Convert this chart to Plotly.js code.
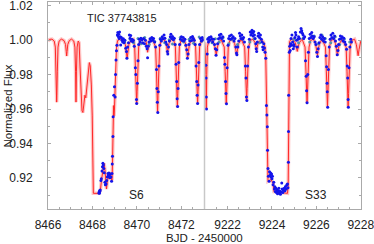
<!DOCTYPE html>
<html><head><meta charset="utf-8">
<script src="https://cdn.plot.ly/plotly-3.0.1.min.js"></script>
<style>html,body{margin:0;padding:0;background:#fff}#c{width:374px;height:244px}</style>
</head><body><div id="c"></div>
<script>
// ---- Model light curve (red), sector 6 ----
const modelS6X = [8466.00,8466.08,8466.18,8466.28,8466.33,8466.36,8466.38,8466.39,8466.40,8466.42,8466.45,8466.50,8466.60,8466.72,8466.79,8466.82,8466.84,8466.86,8466.89,8466.96,8467.06,8467.16,8467.21,8467.24,8467.26,8467.28,8467.31,8467.36,8467.40,8467.44,8467.48,8467.53,8467.57,8467.61,8467.66,8467.70,8467.74,8467.80,8467.86,8467.90,8467.95,8467.99,8468.02,8468.04,8468.30,8468.36,8468.41,8468.46,8468.52,8468.56,8468.60,8468.63,8468.67,8468.74,8468.80,8468.86,8468.88,8468.90,8468.92,8468.95,8468.97,8468.99,8469.02,8469.05,8469.08,8469.13,8469.25,8469.40,8469.48,8469.52,8469.56,8469.60,8469.64,8469.72,8469.84,8469.90,8469.94,8469.97,8469.99,8470.01,8470.04,8470.08,8470.15,8470.28,8470.40,8470.45,8470.48,8470.51,8470.56,8470.70,8470.84,8470.88,8470.91,8470.93,8470.95,8470.98,8471.02,8471.09,8471.20,8471.32,8471.35,8471.38,8471.41,8471.44,8471.52,8471.65,8471.73,8471.77,8471.80,8471.82,8471.84,8471.87,8471.91,8471.98,8472.10,8472.20,8472.24,8472.28,8472.32,8472.36,8472.44,8472.56,8472.64,8472.68,8472.71,8472.73,8472.75,8472.78,8472.82,8472.90,8473.04];
const modelS6Y = [0.9996,1.0005,1.0006,0.9995,0.9960,0.9820,0.9680,0.9640,0.9680,0.9820,0.9960,0.9995,1.0006,0.9998,0.9975,0.9935,0.9908,0.9935,0.9975,0.9998,1.0006,0.9995,0.9960,0.9820,0.9640,0.9820,0.9960,0.9995,0.9985,0.9850,0.9680,0.9590,0.9580,0.9620,0.9680,0.9665,0.9720,0.9830,0.9870,0.9850,0.9740,0.9560,0.9300,0.9110,0.9110,0.9130,0.9190,0.9240,0.9285,0.9250,0.9170,0.9135,0.9180,0.9220,0.9225,0.9200,0.9185,0.9280,0.9420,0.9620,0.9560,0.9600,0.9700,0.9840,0.9960,0.9998,1.0006,0.9998,0.9975,0.9935,0.9895,0.9935,0.9975,0.9998,1.0005,0.9960,0.9820,0.9700,0.9630,0.9700,0.9820,0.9960,0.9998,1.0006,0.9995,0.9970,0.9930,0.9970,0.9995,1.0006,0.9960,0.9820,0.9680,0.9580,0.9680,0.9820,0.9960,0.9998,1.0006,0.9980,0.9955,0.9924,0.9955,0.9980,1.0002,1.0005,0.9960,0.9820,0.9690,0.9610,0.9690,0.9820,0.9960,0.9998,1.0006,0.9975,0.9935,0.9895,0.9935,0.9975,0.9998,1.0005,0.9960,0.9820,0.9700,0.9630,0.9700,0.9820,0.9960,0.9998,1.0004];

// ---- Model light curve (red), sector 33 ----
const modelS33X = [9220.96,9221.00,9221.02,9221.04,9221.06,9221.09,9221.16,9221.28,9221.40,9221.45,9221.49,9221.53,9221.58,9221.70,9221.85,9221.89,9221.92,9221.94,9221.96,9221.99,9222.03,9222.10,9222.22,9222.32,9222.37,9222.41,9222.45,9222.50,9222.62,9222.77,9222.81,9222.84,9222.86,9222.88,9222.91,9222.95,9223.02,9223.14,9223.24,9223.28,9223.31,9223.34,9223.38,9223.50,9223.62,9223.68,9223.72,9223.76,9223.78,9223.80,9223.82,9223.95,9224.05,9224.09,9224.70,9224.73,9224.74,9224.76,9224.79,9224.84,9224.92,9225.05,9225.10,9225.14,9225.18,9225.23,9225.36,9225.49,9225.53,9225.56,9225.58,9225.60,9225.63,9225.67,9225.74,9225.86,9225.96,9226.01,9226.05,9226.09,9226.14,9226.26,9226.41,9226.45,9226.48,9226.50,9226.52,9226.55,9226.59,9226.66,9226.78,9226.86,9226.91,9226.95,9226.99,9227.04,9227.16,9227.34,9227.38,9227.41,9227.43,9227.45,9227.48,9227.52,9227.59,9227.72,9227.80,9227.84,9227.88,9227.92,9227.96,9228.00];
const modelS33Y = [0.9990,0.9930,0.9800,0.9600,0.9800,0.9960,0.9998,1.0005,0.9980,0.9950,0.9914,0.9950,0.9980,1.0005,0.9960,0.9820,0.9700,0.9630,0.9700,0.9820,0.9960,0.9998,1.0006,0.9980,0.9950,0.9914,0.9950,0.9980,1.0005,0.9960,0.9820,0.9720,0.9650,0.9720,0.9820,0.9960,0.9998,1.0006,0.9985,0.9965,0.9940,0.9965,0.9985,1.0004,0.9990,0.9960,0.9900,0.9620,0.9450,0.9250,0.9180,0.9190,0.9170,0.9120,0.9110,0.9160,0.9400,0.9750,0.9990,1.0002,1.0005,0.9985,0.9960,0.9935,0.9960,0.9985,1.0006,0.9960,0.9820,0.9700,0.9636,0.9700,0.9820,0.9960,0.9998,1.0006,0.9980,0.9950,0.9912,0.9950,0.9980,1.0005,0.9960,0.9820,0.9690,0.9610,0.9690,0.9820,0.9960,0.9998,1.0006,0.9980,0.9950,0.9912,0.9950,0.9980,1.0005,0.9960,0.9820,0.9690,0.9610,0.9690,0.9820,0.9960,0.9998,1.0006,0.9975,0.9945,0.9910,0.9945,0.9975,0.9995];

// ---- TESS data (dark blue), sector 6 ----
const dataS6X = [8468.29,8468.30,8468.31,8468.32,8468.33,8468.35,8468.38,8468.40,8468.43,8468.45,8468.47,8468.49,8468.51,8468.53,8468.56,8468.58,8468.61,8468.64,8468.67,8468.70,8468.72,8468.74,8468.76,8468.78,8468.80,8468.83,8468.86,8468.88,8468.89,8468.90,8468.92,8468.93,8468.96,8468.99,8469.02,8469.04,8469.06,8469.08,8469.10,
8469.12,8469.14,8469.16,8469.18,8469.20,8469.22,8469.25,8469.27,8469.30,8469.33,8469.36,8469.39,8469.42,8469.46,8469.50,8469.53,8469.55,8469.58,8469.62,8469.66,8469.69,8469.72,8469.75,8469.78,8469.81,8469.84,8469.88,8469.93,8469.95,8469.98,8469.99,8470.02,8470.05,8470.08,8470.11,8470.14,8470.18,8470.22,8470.26,8470.30,8470.34,8470.38,8470.42,8470.46,8470.48,8470.51,8470.55,8470.59,8470.63,8470.67,8470.71,8470.75,8470.80,8470.84,8470.88,8470.90,8470.92,8470.94,8470.96,8470.99,8471.03,8471.06,8471.10,8471.14,8471.18,8471.22,8471.26,8471.30,8471.34,8471.37,8471.39,8471.42,8471.46,8471.50,8471.53,8471.56,8471.60,8471.64,8471.68,8471.72,8471.76,8471.79,8471.81,8471.83,8471.85,8471.88,8471.92,8471.96,8472.00,8472.04,8472.08,8472.12,8472.16,8472.20,8472.24,8472.27,8472.30,8472.34,8472.38,8472.42,8472.46,8472.50,8472.54,8472.58,8472.62,8472.66,8472.69,8472.71,8472.73,8472.75,8472.78,8472.82,8472.86,8472.90,8472.94,8472.98];
const dataS6Y = [0.9112,0.9118,0.9110,0.9125,0.9120,0.9130,0.9185,0.9195,0.9240,0.9265,0.9285,0.9275,0.9255,0.9230,0.9175,0.9160,0.9165,0.9185,0.9205,0.9225,0.9215,0.9228,0.9210,0.9200,0.9222,0.9205,0.9180,0.9225,0.9280,0.9325,0.9440,0.9555,0.9680,0.9730,0.9670,0.9800,0.9885,0.9938,0.9970,
1.0030,1.0045,1.0022,1.0035,1.0010,1.0048,1.0020,0.9972,1.0015,1.0000,0.9990,1.0008,0.9985,1.0000,0.9953,0.9935,0.9895,0.9960,0.9985,1.0030,1.0012,1.0028,0.9995,1.0005,0.9992,1.0000,0.9965,0.9840,0.9800,0.9655,0.9632,0.9750,0.9880,0.9975,1.0005,0.9990,1.0012,1.0002,0.9985,1.0010,0.9980,1.0000,0.9965,0.9950,0.9898,0.9965,0.9990,1.0008,0.9995,1.0015,1.0000,1.0010,0.9990,0.9960,0.9830,0.9720,0.9640,0.9580,0.9700,0.9850,0.9970,1.0005,0.9995,1.0020,1.0008,1.0030,1.0012,0.9990,0.9975,0.9935,0.9920,0.9960,0.9995,1.0020,1.0035,1.0010,1.0022,1.0002,1.0012,0.9975,0.9860,0.9760,0.9660,0.9615,0.9720,0.9870,0.9975,1.0005,1.0020,0.9998,1.0015,0.9995,1.0005,0.9970,0.9945,0.9895,0.9920,0.9975,0.9995,1.0015,0.9998,1.0022,1.0010,1.0000,0.9975,0.9850,0.9760,0.9680,0.9632,0.9740,0.9870,0.9975,1.0010,0.9995,1.0015,1.0002];

// ---- TESS data (dark blue), sector 33 ----
const dataS33X = [9221.02,9221.03,9221.04,9221.05,9221.08,9221.11,9221.14,9221.17,9221.21,9221.25,9221.29,9221.33,9221.37,9221.41,9221.45,9221.48,9221.51,9221.55,9221.59,9221.63,9221.66,9221.70,9221.74,9221.78,9221.82,9221.86,9221.88,9221.91,9221.93,9221.95,9221.98,9222.02,9222.05,9222.09,9222.13,9222.17,9222.21,9222.25,9222.29,9222.33,9222.37,9222.40,9222.42,9222.46,9222.50,9222.54,9222.57,9222.60,9222.64,9222.68,9222.72,9222.76,9222.80,9222.83,9222.85,9222.87,9222.90,9222.94,9222.98,9223.02,9223.05,9223.08,9223.10,9223.12,9223.15,9223.18,9223.21,9223.24,9223.27,9223.29,9223.31,9223.34,9223.37,9223.40,9223.44,9223.48,9223.52,9223.55,9223.58,9223.60,9223.63,9223.66,9223.69,9223.72,
9223.75,9223.77,9223.79,9223.80,9223.82,9223.84,9223.87,9223.89,9223.92,9223.94,9223.96,9223.98,9224.00,9224.02,9224.05,9224.08,9224.11,9224.13,9224.15,9224.18,9224.20,9224.23,9224.25,9224.28,9224.31,9224.33,9224.36,9224.38,9224.41,9224.44,9224.46,9224.49,9224.52,9224.55,9224.58,9224.61,9224.64,9224.67,9224.70,9224.72,9224.74,9224.745,9224.75,
9224.78,9224.80,9224.82,9224.84,9224.86,9224.88,9224.90,9224.93,9224.96,9224.98,9225.00,9225.03,9225.06,9225.08,9225.11,9225.14,9225.17,9225.20,9225.24,9225.28,9225.31,9225.34,9225.37,9225.40,9225.43,9225.47,9225.51,9225.54,9225.56,9225.58,9225.61,9225.64,9225.68,9225.72,9225.75,9225.79,9225.82,9225.86,9225.90,9225.94,9225.98,9226.02,9226.05,9226.08,9226.12,9226.16,9226.20,9226.24,9226.28,9226.32,9226.36,9226.40,9226.44,9226.46,9226.48,9226.49,9226.51,9226.54,9226.58,9226.62,9226.66,9226.70,9226.74,9226.78,9226.82,9226.86,9226.90,9226.94,9226.97,9227.00,9227.04,9227.08,9227.12,9227.16,9227.20,9227.24,9227.28,9227.32,9227.36,9227.39,9227.41,9227.43,9227.44,9227.47,9227.51,9227.55,9227.58];
const dataS33Y = [0.9855,0.9780,0.9670,0.9600,0.9920,1.0005,0.9990,1.0015,1.0000,1.0020,1.0008,0.9990,1.0005,0.9975,0.9950,0.9912,0.9945,0.9980,1.0008,1.0030,1.0015,1.0035,1.0010,1.0020,0.9995,0.9900,0.9860,0.9760,0.9690,0.9630,0.9840,0.9970,1.0010,1.0025,1.0005,1.0030,1.0012,1.0020,0.9995,1.0010,0.9960,0.9925,0.9915,0.9960,0.9995,1.0040,1.0025,1.0010,1.0030,1.0005,1.0015,0.9990,0.9850,0.9780,0.9670,0.9650,0.9850,0.9960,1.0005,1.0048,1.0030,1.0045,1.0058,1.0040,1.0025,1.0050,1.0030,1.0010,0.9980,0.9950,0.9935,0.9990,1.0025,1.0040,1.0015,1.0030,1.0005,0.9990,0.9960,0.9945,0.9980,0.9955,0.9930,0.9895,
0.9620,0.9565,0.9497,0.9360,0.9254,0.9210,0.9180,0.9235,0.9215,0.9228,0.9205,0.9222,0.9195,0.9210,0.9160,0.9175,0.9135,0.9148,0.9120,0.9140,0.9115,0.9130,0.9108,0.9125,0.9140,0.9112,0.9122,0.9105,0.9118,0.9170,0.9135,0.9115,0.9128,0.9140,0.9125,0.9150,0.9135,0.9160,0.9165,0.9142,0.9290,0.9470,0.9680,
0.9930,0.9965,0.9940,0.9980,1.0010,0.9970,1.0030,0.9990,0.9950,0.9975,0.9965,1.0015,1.0045,1.0030,1.0000,0.9960,1.0005,1.0020,1.0010,1.0048,1.0068,1.0055,1.0040,1.0030,1.0010,1.0020,0.9880,0.9790,0.9706,0.9636,0.9800,0.9930,1.0010,1.0035,1.0015,1.0045,1.0025,1.0010,1.0020,0.9990,0.9975,0.9930,0.9905,0.9950,0.9985,1.0015,1.0030,1.0005,1.0020,0.9995,1.0010,0.9990,0.9910,0.9846,0.9750,0.9700,0.9610,0.9830,0.9960,1.0005,1.0030,1.0015,1.0040,1.0010,1.0025,0.9995,0.9965,0.9915,0.9940,0.9975,1.0005,1.0025,1.0010,1.0020,0.9995,1.0012,0.9990,0.9975,0.9948,0.9850,0.9780,0.9656,0.9610,0.9840,0.9960,1.0005,0.9990];

// ---- second data set (teal), baseline ----
const tealS6X = [8469.45,8469.70,8469.85,8470.05,8470.20,8470.35,8470.55,8470.65,8470.80,8471.05,8471.25,8471.45,8471.60,8471.95,8472.10,8472.35,8472.55,8472.80,8472.92];
const tealS6Y = [0.9990,1.0005,0.9985,1.0010,0.9980,1.0015,0.9975,1.0008,0.9992,1.0012,0.9985,1.0002,0.9978,1.0015,0.9990,1.0005,0.9982,1.0018,0.9995];
const tealS33X = [9221.12,9221.30,9221.45,9221.62,9221.80,9222.05,9222.20,9222.45,9222.65,9223.00,9223.20,9223.45,9225.00,9225.20,9225.40,9225.70,9225.90,9226.10,9226.25,9226.40,9226.65,9226.85,9227.05,9227.25,9227.50];
const tealS33Y = [1.0012,0.9985,1.0008,0.9990,1.0015,0.9980,1.0005,0.9975,1.0010,0.9990,1.0008,0.9985,1.0005,0.9985,1.0012,0.9990,1.0025,0.9980,1.0030,1.0010,0.9985,1.0020,0.9975,1.0005,0.9990];

const yTicks = [0.92,0.94,0.96,0.98,1.00,1.02];
const s6Ticks = [8466,8468,8470,8472];
const s33Ticks = [9222,9224,9226,9228];

const red = 'rgb(255,40,40)';
const blue = 'rgb(20,20,235)';
const teal = 'rgb(80,145,175)';
const FONT = 'Liberation Sans, Arial, sans-serif';

const traces = [
  {x: modelS6X, y: modelS6Y, xaxis:'x', yaxis:'y', mode:'lines', line:{color:'rgba(255,90,90,0.35)', width:3.5}},
  {x: modelS33X, y: modelS33Y, xaxis:'x2', yaxis:'y2', mode:'lines', line:{color:'rgba(255,90,90,0.35)', width:3.5}},
  {x: modelS6X, y: modelS6Y, xaxis:'x', yaxis:'y', mode:'lines', line:{color:red, width:1}},
  {x: modelS33X, y: modelS33Y, xaxis:'x2', yaxis:'y2', mode:'lines', line:{color:red, width:1}},
  {x: tealS6X, y: tealS6Y, xaxis:'x', yaxis:'y', mode:'markers', marker:{color:teal, size:3}},
  {x: tealS33X, y: tealS33Y, xaxis:'x2', yaxis:'y2', mode:'markers', marker:{color:teal, size:3}},
  {x: dataS6X, y: dataS6Y, xaxis:'x', yaxis:'y', mode:'markers', marker:{color:blue, size:3}},
  {x: dataS33X, y: dataS33Y, xaxis:'x2', yaxis:'y2', mode:'markers', marker:{color:blue, size:3}}
];

const axCol = '#aaaaaa';
const tickFont = {family:FONT, size:12, color:'#222'};
const xCommon = {showline:true, linecolor:axCol, linewidth:1, mirror:'ticks', ticks:'inside', ticklen:3, tickcolor:axCol,
  showgrid:false, zeroline:false, tickfont:tickFont, ticklabelstandoff:5, ticklabeloverflow:'allow',
  minor:{ticks:'inside', ticklen:2, tickcolor:axCol, dtick:0.5, showgrid:false}};

const layout = {
  width:374, height:244,
  margin:{l:48, r:13, t:2, b:35},
  paper_bgcolor:'#fff', plot_bgcolor:'#fff',
  showlegend:false,
  xaxis: Object.assign({}, xCommon, {domain:[0,0.5], range:[8466,8473.04], tickvals:s6Ticks, ticktext:s6Ticks.map(String), anchor:'y'}),
  xaxis2: Object.assign({}, xCommon, {domain:[0.5,1], range:[9220.96,9228.01], tickvals:s33Ticks, ticktext:s33Ticks.map(String), anchor:'y2'}),
  yaxis: {range:[0.9019,1.0222], tickvals:yTicks, ticktext:yTicks.map(v=>v.toFixed(2)), showline:true, linecolor:axCol, ticks:'inside', ticklen:3, tickcolor:axCol,
    showgrid:false, zeroline:false, tickfont:tickFont, ticklabelstandoff:12, ticklabeloverflow:'allow', anchor:'x',
    minor:{ticks:'inside', ticklen:2, tickcolor:axCol, dtick:0.01, showgrid:false}},
  yaxis2: {range:[0.9019,1.0222], matches:'y', anchor:'x2', side:'right', showline:true, linecolor:axCol, ticks:'inside', ticklen:3, tickcolor:axCol,
    tickvals:yTicks, showticklabels:false, showgrid:false, zeroline:false,
    minor:{ticks:'inside', ticklen:2, tickcolor:axCol, dtick:0.01, showgrid:false}},
  shapes:[{type:'line', xref:'paper', yref:'paper', x0:0.5, x1:0.5, y0:0, y1:1, line:{color:'#c8c8c8', width:1.5}}],
  annotations:[
    {text:'TIC 37743815', xref:'paper', yref:'paper', x:0.238, y:0.925, xanchor:'center', yanchor:'middle', showarrow:false, font:{family:FONT, size:11, color:'#222'}},
    {text:'Normalized Flux', xref:'paper', yref:'paper', x:-0.1278, y:0.5, textangle:-90, xanchor:'center', yanchor:'middle', showarrow:false, font:{family:FONT, size:11.5, color:'#222'}},
    {text:'BJD - 2450000', xref:'paper', yref:'paper', x:0.5, y:-0.1377, xanchor:'center', yanchor:'middle', showarrow:false, font:{family:FONT, size:11.5, color:'#222'}},
    {text:'S6', xref:'x', yref:'y', x:8470.0, y:0.9100, xanchor:'center', yanchor:'middle', showarrow:false, font:{family:FONT, size:12, color:'#222'}},
    {text:'S33', xref:'x2', yref:'y2', x:9226.0, y:0.9100, xanchor:'center', yanchor:'middle', showarrow:false, font:{family:FONT, size:12, color:'#222'}}
  ]
};
Plotly.newPlot('c', traces, layout, {staticPlot:true, displayModeBar:false});
</script></body></html>
